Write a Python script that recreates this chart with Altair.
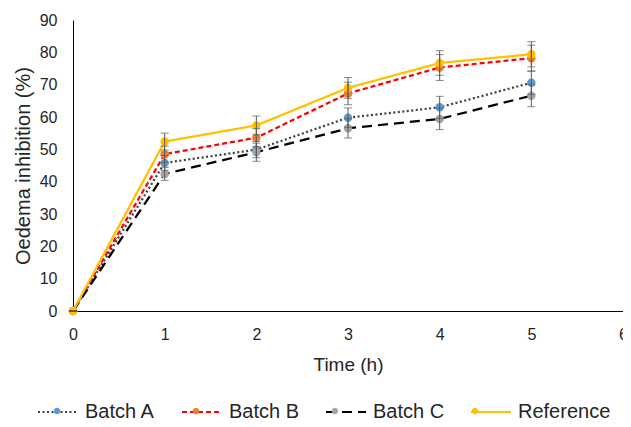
import altair as alt
import pandas as pd

time = [0, 1, 2, 3, 4, 5]
series_names = ["Batch A", "Batch B", "Batch C", "Reference"]
batch_a = [0, 45.8, 49.9, 59.8, 63.0, 70.6]
batch_b = [0, 48.5, 53.6, 67.3, 75.3, 78.2]
batch_c = [0, 42.4, 49.1, 56.5, 59.4, 66.6]
reference = [0, 52.4, 57.4, 69.0, 76.7, 79.4]
err_a = [0, 2.3, 2.5, 3.0, 3.4, 3.6]
err_b = [0, 2.5, 2.8, 3.5, 4.0, 4.0]
err_c = [0, 2.0, 2.8, 3.0, 3.3, 3.4]
err_ref = [0, 2.6, 2.9, 3.2, 3.8, 3.9]

line_colors = ["#404040", "#FF0000", "#000000", "#FFC000"]
marker_colors = ["#5B9BD5", "#ED7D31", "#A5A5A5", "#FFC000"]
dashes = [[2, 2.5], [5, 3], [10, 6], [1, 0]]

rows = []
for name, vals, errs in zip(series_names, [batch_a, batch_b, batch_c, reference],
                            [err_a, err_b, err_c, err_ref]):
    for t, v, e in zip(time, vals, errs):
        rows.append({"time": t, "value": v, "lo": v - e, "hi": v + e,
                     "series": name, "marker": name})
df = pd.DataFrame(rows)

FONT = "Liberation Sans"
TXT = "#262626"

xaxis = alt.Axis(values=[0, 1, 2, 3, 4, 5, 6], title="Time (h)", labelPadding=15,
                 titlePadding=13, labelFlush=False)
xenc = alt.X("time:Q", scale=alt.Scale(domain=[0, 6], nice=False), axis=xaxis)
yscale = alt.Scale(domain=[0, 90], nice=False)
yaxis = alt.Axis(values=list(range(0, 91, 10)), title="Oedema inhibition (%)",
                 labelPadding=16, titlePadding=6, titleFontSize=20)


def Y(field):
    return alt.Y(field, scale=yscale, axis=yaxis)


leg_common = dict(orient="none", direction="horizontal", legendX=-36, legendY=371,
                  title=None, labelFont=FONT, labelFontSize=20, labelOffset=6,
                  columnPadding=22, symbolSize=1600)

line_legend = alt.Legend(symbolType="stroke", symbolStrokeWidth=2, labelColor=TXT,
                         **leg_common)

base = alt.Chart(df).encode(x=xenc)

lines = base.mark_line(strokeWidth=2.25).encode(
    y=Y("value:Q"),
    color=alt.Color("series:N", scale=alt.Scale(domain=series_names, range=line_colors),
                    legend=line_legend),
    strokeDash=alt.StrokeDash("series:N", scale=alt.Scale(domain=series_names, range=dashes),
                              legend=line_legend),
    order=alt.Order("time:Q"),
)

circle_path = "M-0.16,0 A0.16,0.16 0 1,1 0.16,0 A0.16,0.16 0 1,1 -0.16,0 Z"
points = base.mark_point(filled=True, size=72, opacity=1).encode(
    y=Y("value:Q"),
    fill=alt.Fill("marker:N", sort=series_names, scale=alt.Scale(range=marker_colors),
                  legend=alt.Legend(symbolType=circle_path, symbolStrokeWidth=0,
                                    labelColor="transparent", **leg_common)),
)

rules = base.mark_rule(color="#595959", strokeWidth=1).encode(
    y=Y("lo:Q"), y2="hi:Q")
ticks_hi = base.mark_tick(orient="horizontal", size=8, thickness=1, color="#595959").encode(
    y=Y("hi:Q"))
ticks_lo = base.mark_tick(orient="horizontal", size=8, thickness=1, color="#595959").encode(
    y=Y("lo:Q"))

chart = alt.layer(lines, points, rules, ticks_hi, ticks_lo).properties(
    width=550, height=291,
    autosize=alt.AutoSizeParams(type="none"),
    padding={"left": 65, "top": 12, "right": 0, "bottom": 108},
).configure_view(stroke=None).configure_axis(
    grid=False, ticks=False, tickSize=0, domainColor="#000000", domainWidth=1,
    labelFont=FONT, labelFontSize=16, labelColor=TXT,
    titleFont=FONT, titleFontSize=19, titleFontWeight="normal", titleColor=TXT,
)

chart.save("out.html", embed_options={"renderer": "svg", "actions": False})
